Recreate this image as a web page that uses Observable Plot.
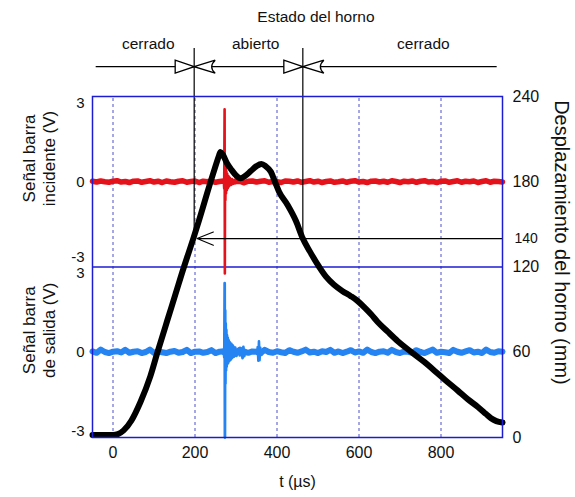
<!DOCTYPE html>
<html>
<head>
<meta charset="utf-8">
<script src="https://cdn.jsdelivr.net/npm/d3@7"></script>
<script src="https://cdn.jsdelivr.net/npm/@observablehq/plot@0.6"></script>
<style>
  body { margin: 0; background: #fff; }
  #chart svg { font-family: "Liberation Sans", Arial, sans-serif; }
</style>
</head>
<body>
<div id="chart"></div>
<script>
// Furnace displacement (mm) against time (µs)
const dispT  = [-50, 0, 12, 26, 45, 67, 91, 108, 132, 152, 173, 185, 197, 210, 224, 238, 250, 258, 262, 268,
                278, 290, 300, 311, 322, 336, 350, 362, 372, 385, 395, 405, 425, 446, 463, 480, 503, 520, 539, 560,
                580, 597, 615, 630, 645, 670, 694, 715, 735, 760, 784, 810, 841, 865, 890, 910, 922, 935, 950];
const dispMm = [1.8, 1.8, 2.4, 5, 12, 25, 43, 59.5, 82, 100.5, 120, 130.5, 141, 153, 166.5, 180, 191, 198, 201, 199,
                193, 188, 184.5, 182.5, 184, 187.5, 191, 192.5, 191, 187, 180, 173, 164, 152.5, 140, 131, 120, 113, 107.5, 103,
                99.5, 96, 91, 86.5, 81.5, 74.5, 68, 63, 58.5, 53, 47, 40.5, 33, 27, 21.5, 16.5, 13.5, 11.5, 10.5];

// Bar signals (V): background samples every 10 µs starting at -50 µs
const sampleStart = -50, sampleStep = 10;
const incidentNoise = [
  0.02, -0.01, 0.03, 0.00, -0.02, 0.02, 0.04, -0.01, 0.01, -0.03,
  0.02, 0.03, -0.02, 0.01, 0.04, -0.01, 0.02, -0.03, 0.03, 0.00,
  -0.02, 0.02, 0.04, -0.02, 0.01, 0.03, -0.03, 0.02, 0.00, 0.03,
  -0.02, 0.01, 0.03, -0.01, -0.03, 0.02, 0.01, -0.04, 0.02, 0.03,
  -0.01, 0.02, 0.04, -0.02, 0.01, 0.00, -0.03, 0.03, 0.02, -0.01,
  0.03, -0.02, 0.01, 0.04, -0.01, 0.02, -0.03, 0.01, 0.03, -0.02,
  0.00, 0.03, -0.02, 0.02, 0.04, -0.01, 0.01, -0.03, 0.02, 0.03,
  -0.01, 0.02, -0.02, 0.04, 0.01, -0.03, 0.02, 0.00, 0.03, -0.02,
  0.02, 0.04, -0.01, 0.01, -0.03, 0.02, 0.03, -0.02, 0.01, 0.04,
  -0.02, 0.02, 0.00, 0.03, -0.03, 0.01, 0.04, -0.02, 0.02, 0.01, -0.01
];
const outputNoise = [
  0.03, -0.02, 0.10, 0.01, -0.03, 0.02, 0.04, -0.01, 0.09, -0.02,
  0.02, 0.04, -0.03, 0.01, 0.10, -0.02, 0.03, 0.00, -0.03, 0.02,
  0.05, -0.02, 0.01, 0.09, -0.03, 0.02, 0.03, -0.02, 0.01, 0.08,
  -0.03, 0.02, 0.04, -0.01, 0.02, -0.03, 0.10, 0.01, -0.02, 0.03,
  0.02, -0.03, 0.09, 0.01, -0.02, 0.04, 0.00, -0.03, 0.08, 0.02,
  -0.02, 0.03, 0.10, -0.01, 0.02, -0.03, 0.04, 0.01, 0.09, -0.02,
  0.03, -0.03, 0.02, 0.08, -0.01, 0.03, -0.02, 0.10, 0.01, -0.03,
  0.02, 0.04, -0.02, 0.09, 0.01, -0.03, 0.03, 0.02, -0.02, 0.08,
  0.01, -0.03, 0.04, 0.10, -0.02, 0.02, 0.00, -0.03, 0.09, 0.02,
  -0.02, 0.03, 0.08, -0.01, 0.02, -0.03, 0.10, 0.01, -0.02, 0.04, 0.02
];

// Impact pulse on the incident bar
const incidentBurstT = [268, 270, 271.2, 272.2, 272.8, 273.4, 274.1, 274.9, 275.7, 276.6,
                        277.6, 278.7, 280, 281.5, 283, 285, 287.5, 290, 293, 296, 299];
const incidentBurstV = [-0.04, 0.06, -0.25, 2.76, -3.5, 0.9, -0.7, 0.55, -0.45, 0.4,
                        -0.32, 0.3, -0.25, 0.22, -0.18, 0.15, -0.12, 0.1, -0.08, 0.07, -0.05];

// Transmitted pulse on the output bar, with its ringing and a later echo
const outputBurstT = [268, 270, 271.5, 272.4, 273, 273.6, 274.2, 274.9, 275.6,
                      276.4, 277.2, 278, 278.9, 279.9, 281, 282.3, 283.7, 285.2, 286.8,
                      288.6, 290.5, 292.5, 295, 298, 301, 305, 309, 313, 316,
                      318, 320, 323, 327];
const outputBurstV = [-0.05, 0.06, -0.2, 2.63, -3.25, 1.6, -1.2, 1.1, -0.7,
                      0.85, -0.55, 0.65, -0.45, 0.55, -0.4, 0.45, -0.33, 0.38, -0.28,
                      0.32, -0.22, 0.25, -0.17, 0.18, -0.14, 0.12, -0.12, 0.1, -0.22,
                      0.2, -0.15, 0.08, -0.05];
const outputEchoT = [348, 351, 353, 354.5, 356, 357.5, 359, 362, 366];
const outputEchoV = [0.04, -0.06, 0.2, -0.32, 0.42, -0.3, 0.18, -0.1, 0.04];

// Furnace state: times where the displacement crosses 140 mm
const thresholdMm = 140;
const stateBounds = [198, 463];
const arrowTip = 205;
const stateNames = ["cerrado", "abierto", "cerrado"];
const stateNameT = [86, 348, 757];
const stateTitle = "Estado del horno";

// Tick labels
const timeTicks = [0, 200, 400, 600, 800];
const voltTicks = [-3, 0, 3];
const mmTicks = [0, 60, 120, 180, 240];

// Each panel spans ±3.25 V over 120 mm of the displacement axis
const mmPerVolt = 120 / 6.5;
const incidentZero = 180, outputZero = 60;
const toMm = (zero, v) => zero + v * mmPerVolt;

const series = (ts, vs, zero) => ts.map((t, i) => ({t, mm: toMm(zero, vs[i])}));
const sampled = (vs, zero) => vs.map((v, i) => ({t: sampleStart + i * sampleStep, mm: toMm(zero, v)}));

const incidentBase = sampled(incidentNoise, incidentZero);
const outputBase = sampled(outputNoise, outputZero);
const incidentPulse = series(incidentBurstT, incidentBurstV, incidentZero);
const outputPulse = series(outputBurstT, outputBurstV, outputZero);
const outputEcho = series(outputEchoT, outputEchoV, outputZero);
const disp = dispT.map((t, i) => ({t, mm: dispMm[i]}));

// Left axis: volt labels placed on the displacement scale of each panel
const leftTicks = [];
voltTicks.forEach(v => {
  leftTicks.push({mm: toMm(incidentZero, v), label: String(v)});
  leftTicks.push({mm: toMm(outputZero, v), label: String(v)});
});
const leftLabel = new Map(leftTicks.map(d => [d.mm, d.label]));
const incidentBottom = toMm(incidentZero, -3);

const frameBlue = "#1c1cd2";
const gridBlue = "#3a3ac0";
const red = "#e3121b";
const blue = "#2684f2";

// Open arrowheads that close in on each state boundary
const tipRight = {draw(ctx) { ctx.moveTo(0, 0); ctx.lineTo(-19, -6.5); ctx.lineTo(-19, 6.5); ctx.closePath(); }};
const tipLeft = {draw(ctx) { ctx.moveTo(0, 0); ctx.lineTo(21, -6.5); ctx.quadraticCurveTo(14, 0, 21, 6.5); ctx.closePath(); }};

const stateLineMm = 261, boundTopMm = 273.8, nameMm = 277, titleMm = 295.8;

const chart = Plot.plot({
  width: 575,
  height: 497,
  marginLeft: 92,
  marginRight: 73,
  marginTop: 96,
  marginBottom: 60,
  style: {background: "#fff", color: "#111", fontSize: "15px", overflow: "visible"},
  x: {domain: [-50, 950], label: null},
  y: {domain: [0, 240], label: null},
  marks: [
    Plot.ruleX(timeTicks, {y1: 0, y2: 240, stroke: gridBlue, strokeWidth: 0.9, strokeDasharray: "3,3"}),
    Plot.ruleY([120], {stroke: frameBlue, strokeWidth: 1.4}),
    Plot.line(incidentBase, {x: "t", y: "mm", stroke: red, strokeWidth: 5.5}),
    Plot.line(incidentPulse, {x: "t", y: "mm", stroke: red, strokeWidth: 2.6}),
    Plot.line(outputBase, {x: "t", y: "mm", stroke: blue, strokeWidth: 6}),
    Plot.line(outputPulse, {x: "t", y: "mm", stroke: blue, strokeWidth: 2.8}),
    Plot.line(outputEcho, {x: "t", y: "mm", stroke: blue, strokeWidth: 2.6}),
    Plot.line(disp, {x: "t", y: "mm", stroke: "#000", strokeWidth: 6, curve: "monotone-x", strokeLinejoin: "round"}),
    Plot.ruleX(stateBounds, {y1: thresholdMm, y2: boundTopMm, stroke: "#000", strokeWidth: 1.2}),
    Plot.arrow([{x1: 950, x2: arrowTip, y: thresholdMm}], {
      x1: "x1", x2: "x2", y1: "y", y2: "y", stroke: "#000", strokeWidth: 1.1, headLength: 24, headAngle: 44
    }),
    Plot.ruleY([stateLineMm], {x1: -41, x2: 937, stroke: "#000", strokeWidth: 1.2}),
    Plot.dot(stateBounds, {x: d => d, y: stateLineMm, r: 1, symbol: tipRight, fill: "#fff", stroke: "#000", strokeWidth: 1.3}),
    Plot.dot(stateBounds, {x: d => d, y: stateLineMm, r: 1, symbol: tipLeft, fill: "#fff", stroke: "#000", strokeWidth: 1.3}),
    Plot.text(stateNames, {x: (d, i) => stateNameT[i], y: nameMm, text: d => d, fontSize: 15.5}),
    Plot.text([stateTitle], {x: 495, y: titleMm, text: d => d, fontSize: 15.5}),
    Plot.frame({stroke: frameBlue, strokeWidth: 1.5}),
    Plot.axisX(timeTicks, {tickSize: 0, tickPadding: 9, fontSize: 16, label: null}),
    Plot.axisY(leftTicks.map(d => d.mm).filter(mm => mm !== incidentBottom), {anchor: "left", tickSize: 0, tickPadding: 8,
      fontSize: 15, label: null, tickFormat: d => leftLabel.get(d)}),
    Plot.axisY([incidentBottom], {anchor: "left", tickSize: 0, tickPadding: 8, dy: -3,
      fontSize: 15, label: null, tickFormat: d => leftLabel.get(d)}),
    Plot.axisY(mmTicks, {anchor: "right", tickSize: 0, tickPadding: 10, fontSize: 16, label: null}),
    Plot.axisY([thresholdMm], {anchor: "right", tickSize: 0, tickPadding: 12, fontSize: 14, label: null}),
    Plot.text(["Señal barra\nincidente (V)"], {frameAnchor: "left", dx: -54, y: 196.4, rotate: -90,
      textAnchor: "middle", fontSize: 17, lineHeight: 1.15, text: d => d}),
    Plot.text(["Señal barra\nde salida (V)"], {frameAnchor: "left", dx: -54, y: 75.5, rotate: -90,
      textAnchor: "middle", fontSize: 17, lineHeight: 1.15, text: d => d}),
    Plot.text(["Desplazamiento del horno (mm)"], {frameAnchor: "right", dx: 59, y: 137.3, rotate: 90,
      textAnchor: "middle", fontSize: 20, text: d => d}),
    Plot.text(["t (µs)"], {frameAnchor: "bottom", dy: 49, textAnchor: "middle", fontSize: 16, text: d => d})
  ]
});

document.getElementById("chart").append(chart);
</script>
</body>
</html>
